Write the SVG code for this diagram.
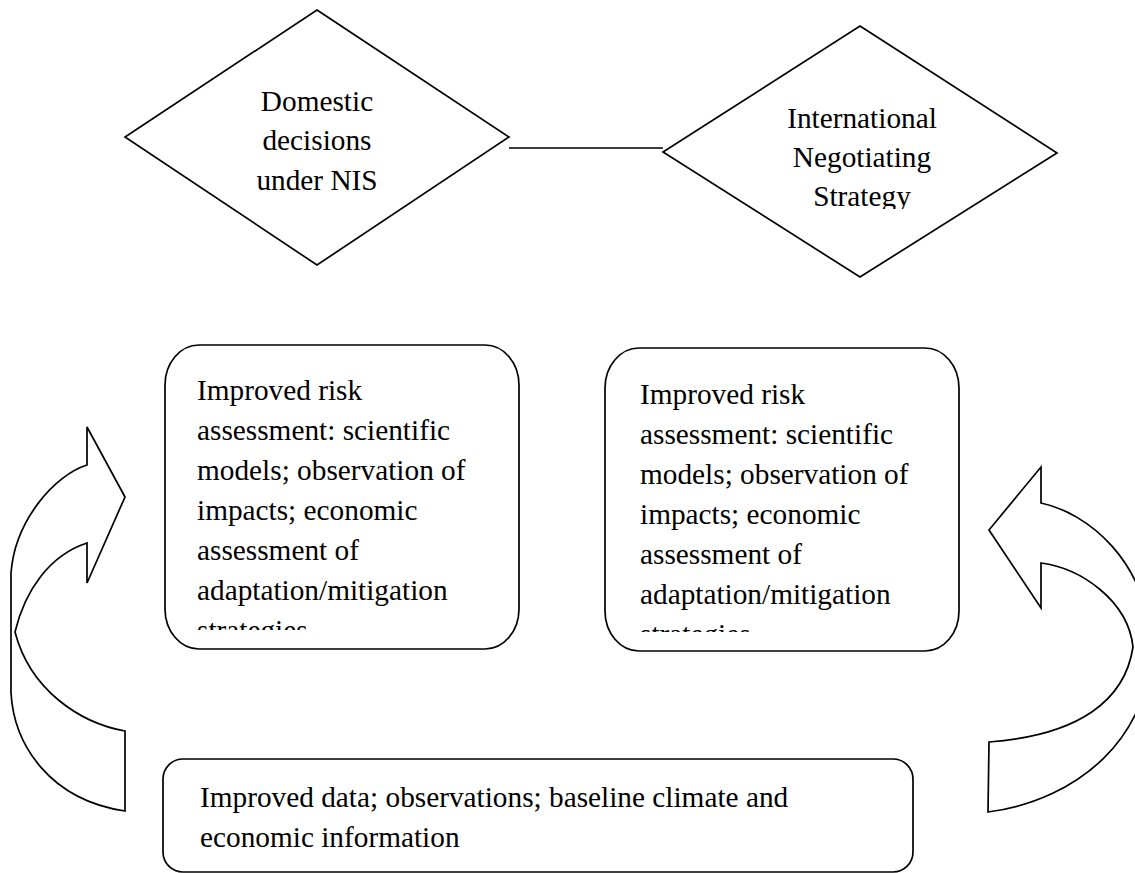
<svg xmlns="http://www.w3.org/2000/svg" width="1135" height="873" viewBox="0 0 1135 873">
<style>
.s{fill:#fff;stroke:#000;stroke-width:1.7;stroke-linejoin:miter}
.t{font-family:"Liberation Serif","Times New Roman",serif;font-size:29.3px;fill:#000}
.c{text-anchor:middle}
</style>
<defs>
<clipPath id="clipR"><rect x="600" y="20" width="500" height="189"/></clipPath>
<clipPath id="clipB1"><rect x="160" y="340" width="370" height="290"/></clipPath>
<clipPath id="clipB2"><rect x="600" y="340" width="370" height="292"/></clipPath>
</defs>
<rect width="1135" height="873" fill="#fff"/>
<g id="connectors">
<line x1="509" y1="148" x2="663" y2="148" stroke="#000" stroke-width="1.7"/>
<path id="arrow-left" class="s" d="M125,497 L87,427 L87,465 C55,475 15,520 11,573 L11,693 C14,745 50,800 125,811 L125,731 C80,723 30,690 15,632 C25,590 50,555 87,543 L87,583 Z"/>
<path id="arrow-right" class="s" d="M989,530 L1041,467 L1041,503 C1085,512 1150,560 1150,650 C1150,735 1080,800 988,812 L989,742 C1080,735 1125,700 1133,647 C1128,600 1080,568 1041,563 L1041,608 Z"/>
</g>
<g id="node-domestic">
<polygon class="s" points="317,10 509,137 317,265 125,137"/>
<text class="t c" x="317" y="111">Domestic</text>
<text class="t c" x="317" y="150">decisions</text>
<text class="t c" x="317" y="190">under NIS</text>
</g>
<g id="node-international">
<polygon class="s" points="860,26 1057,153 860,277 663,152"/>
<g clip-path="url(#clipR)">
<text class="t c" x="862" y="128">International</text>
<text class="t c" x="862" y="167">Negotiating</text>
<text class="t c" x="862" y="206">Strategy</text>
</g>
</g>
<g id="node-risk-left">
<rect class="s" x="165" y="345" width="354" height="304" rx="34" ry="40"/>
<g clip-path="url(#clipB1)">
<text class="t" x="197" y="400">Improved risk</text>
<text class="t" x="197" y="440">assessment: scientific</text>
<text class="t" x="197" y="480">models; observation of</text>
<text class="t" x="197" y="520">impacts; economic</text>
<text class="t" x="197" y="560">assessment of</text>
<text class="t" x="197" y="600">adaptation/mitigation</text>
<text class="t" x="197" y="640">strategies</text>
</g>
</g>
<g id="node-risk-right">
<rect class="s" x="605" y="348" width="354" height="303" rx="34" ry="40"/>
<g clip-path="url(#clipB2)">
<text class="t" x="640" y="404">Improved risk</text>
<text class="t" x="640" y="444">assessment: scientific</text>
<text class="t" x="640" y="484">models; observation of</text>
<text class="t" x="640" y="524">impacts; economic</text>
<text class="t" x="640" y="564">assessment of</text>
<text class="t" x="640" y="604">adaptation/mitigation</text>
<text class="t" x="640" y="644">strategies</text>
</g>
</g>
<g id="node-data">
<rect class="s" x="163" y="759" width="750" height="113" rx="20" ry="20"/>
<text class="t" x="200" y="807">Improved data; observations; baseline climate and</text>
<text class="t" x="200" y="847">economic information</text>
</g>
</svg>
